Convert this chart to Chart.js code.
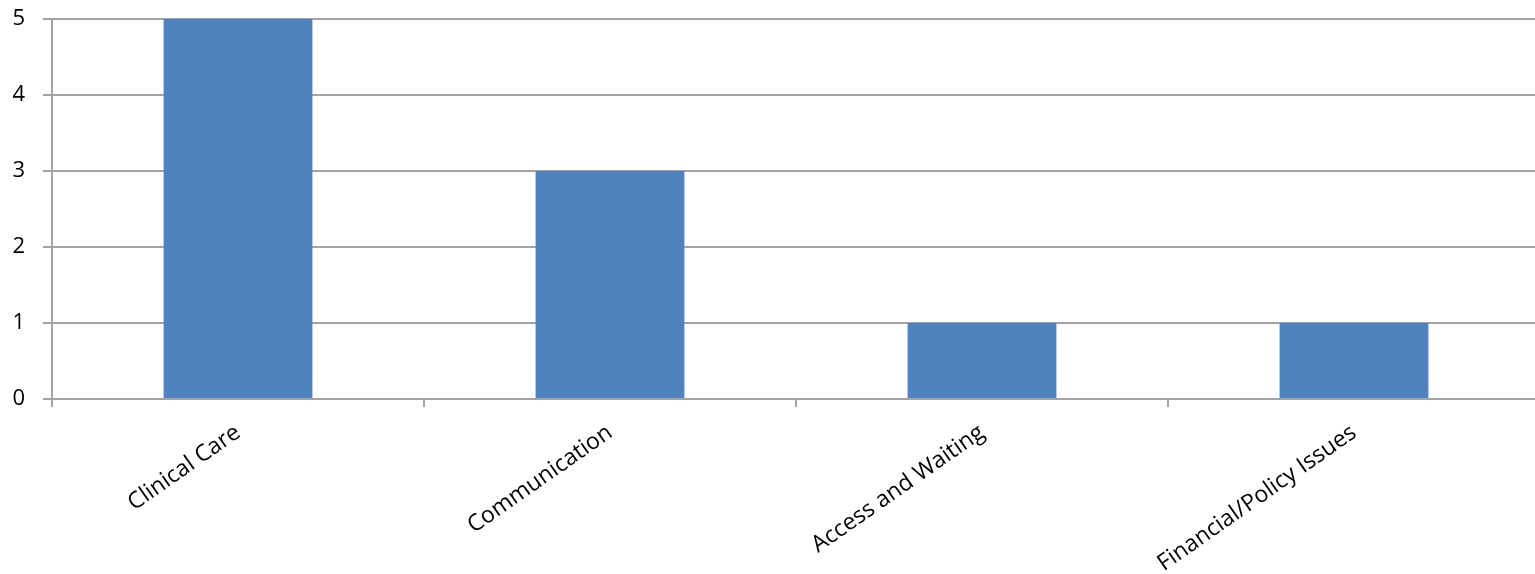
<!DOCTYPE html>
<html>
<head>
<meta charset="utf-8">
<script src="https://cdn.jsdelivr.net/npm/chart.js@4"></script>
<style>
html,body{margin:0;padding:0;background:#fff;overflow:hidden;}
#wrap{position:relative;width:1535px;height:574px;overflow:hidden;}
#c{display:block;}
</style>
</head>
<body>
<div id="wrap"><canvas id="c" width="1540" height="574"></canvas></div>
<script>
const categories = ["Clinical Care", "Communication", "Access and Waiting", "Financial/Policy Issues"];
const counts = [5, 3, 1, 1];
const yTicks = [0, 1, 2, 3, 4, 5];

const gridColor = '#a3a3a3';
new Chart(document.getElementById('c'), {
  type: 'bar',
  data: {
    labels: categories,
    datasets: [{
      data: counts,
      backgroundColor: '#4f81bd',
      borderWidth: 0,
      barPercentage: 0.4,
      categoryPercentage: 1.0
    }]
  },
  options: {
    responsive: false,
    animation: false,
    events: [],
    layout: { padding: { top: 19, right: 0, left: 0, bottom: 0 } },
    plugins: { legend: { display: false }, tooltip: { enabled: false } },
    scales: {
      x: {
        offset: true,
        grid: {
          offset: true, drawOnChartArea: false, drawTicks: true, tickLength: 8,
          color: (ctx) => (ctx.type === 'tick' ? gridColor : 'rgba(0,0,0,0)'),
          lineWidth: 2
        },
        border: { display: true, color: gridColor, width: 2 },
        ticks: {
          font: { family: 'Open Sans', size: 23 },
          color: '#000',
          minRotation: 35, maxRotation: 35,
          padding: 12,
          autoSkip: false
        },
        afterFit(scale) { scale.height = 175; scale.paddingTop = 0; scale.paddingBottom = 0; }
      },
      y: {
        min: 0, max: 5,
        afterBuildTicks(scale) { scale.ticks = yTicks.map(v => ({ value: v })); },
        grid: { color: gridColor, lineWidth: 2, drawTicks: true, tickLength: 9 },
        border: { display: true, color: gridColor, width: 2 },
        ticks: {
          font: { family: 'Open Sans', size: 22 },
          color: '#000',
          padding: 18
        },
        afterFit(scale) { scale.width = 52; scale.paddingTop = 0; scale.paddingBottom = 0; }
      }
    }
  }
});
</script>
</body>
</html>
